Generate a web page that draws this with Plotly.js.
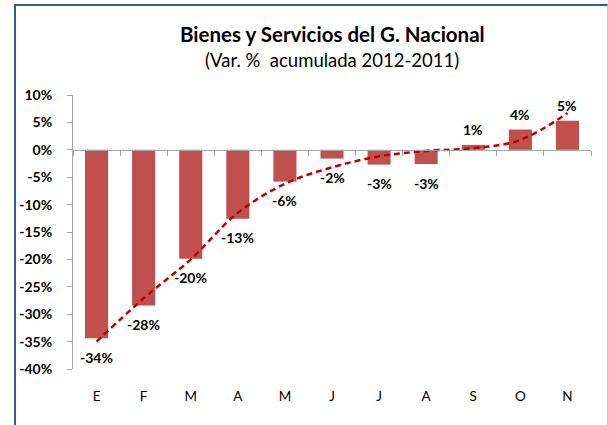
<!DOCTYPE html>
<html>
<head>
<meta charset="utf-8">
<script src="https://cdn.plot.ly/plotly-3.0.1.min.js"></script>
<style>
  html, body { margin: 0; padding: 0; background: #fff; }
  #wrap { position: relative; width: 608px; height: 425px; overflow: hidden; }
  #chart { position: absolute; left: 0; top: 0; width: 608px; height: 425px; }
  #frame { position: absolute; left: 14px; top: 4px; width: 591px; height: 440px;
           border-left: 2px solid #2F5C9E; border-top: 2px solid #2F5C9E;
           border-right: 1px solid #C8C8D0; pointer-events: none; }
</style>
</head>
<body>
<div id="wrap">
  <div id="chart"></div>
  <div id="frame"></div>
</div>
<script>
// Data
var months = ['E', 'F', 'M', 'A', 'M ', 'J', 'J ', 'A ', 'S', 'O', 'N'];
var monthLabels = ['E', 'F', 'M', 'A', 'M', 'J', 'J', 'A', 'S', 'O', 'N'];
var values = [-34.4, -28.4, -19.9, -12.6, -5.8, -1.6, -2.7, -2.6, 0.9, 3.7, 5.3];
var trend = [-35.0, -27.1, -20.0, -11.5, -6.2, -3.2, -1.2, -0.2, 0.3, 1.8, 6.7];
var yTickVals = [-40, -35, -30, -25, -20, -15, -10, -5, 0, 5, 10];
var yTickText = ['-40%', '-35%', '-30%', '-25%', '-20%', '-15%', '-10%', '-5%', '0%', '5%', '10%'];
var titleText = 'Bienes y Servicios del G. Nacional';
var subtitleText = '(Var. %  acumulada 2012-2011)';

var FONT = 'Lato, "Open Sans", sans-serif';

var bars = {
  type: 'bar', x: months, y: values, marker: { color: '#C0504D' },
  width: 0.49, hoverinfo: 'x+y', showlegend: false
};
var trendLine = {
  type: 'scatter', mode: 'lines', x: months, y: trend,
  line: { color: '#C00000', width: 2.5, dash: '6px,4px', shape: 'spline', smoothing: 1 },
  showlegend: false, hoverinfo: 'skip'
};
// invisible trace on xaxis2 to draw the tick marks on the zero line
var tickHelper = {
  type: 'scatter', mode: 'markers', x: months, y: values, xaxis: 'x2',
  marker: { opacity: 0 }, showlegend: false, hoverinfo: 'skip'
};

var annotations = values.map(function (v, i) {
  return {
    x: months[i], y: v, xref: 'x', yref: 'y',
    text: '<b>' + Math.round(v) + '%</b>', showarrow: false,
    yshift: v < 0 ? -19 : 15,
    font: { family: FONT, size: 14, color: '#000' }
  };
});
annotations.push({
  xref: 'paper', yref: 'paper', x: 0.5, y: 1, yanchor: 'bottom', yshift: 47,
  text: '<b>' + titleText + '</b>', showarrow: false,
  font: { family: FONT, size: 20.5, color: '#000' }
});
annotations.push({
  xref: 'paper', yref: 'paper', x: 0.5, y: 1, yanchor: 'bottom', yshift: 22,
  text: subtitleText, showarrow: false,
  font: { family: FONT, size: 18.5, color: '#000' }
});

var layout = {
  width: 608, height: 425,
  margin: { l: 73, r: 17, t: 95, b: 56 },
  paper_bgcolor: '#fff', plot_bgcolor: '#fff',
  font: { family: FONT, color: '#000' },
  xaxis: {
    type: 'category', categoryorder: 'array', categoryarray: months,
    tickvals: months, ticktext: monthLabels,
    showline: false, showgrid: false, zeroline: false, ticks: '',
    ticklabelstandoff: 17,
    tickfont: { family: FONT, size: 13.5, color: '#000' },
    range: [-0.5, 10.5], fixedrange: true
  },
  xaxis2: {
    type: 'category', categoryorder: 'array', categoryarray: months,
    overlaying: 'x', anchor: 'free', position: 0.8, side: 'bottom',
    showline: true, linecolor: '#A6A6A6', linewidth: 1.5,
    ticks: 'outside', ticklen: 5, tickcolor: '#A6A6A6', tickwidth: 1,
    tickson: 'boundaries', showticklabels: false, showgrid: false, zeroline: false,
    range: [-0.5, 10.5], fixedrange: true
  },
  yaxis: {
    range: [-40, 10], tickvals: yTickVals, ticktext: yTickText,
    showline: true, linecolor: '#A6A6A6', linewidth: 1,
    ticks: 'outside', ticklen: 5, tickcolor: '#A6A6A6',
    ticklabelstandoff: 12,
    showgrid: false, zeroline: false,
    tickfont: { family: FONT, size: 14, color: '#000', weight: 'bold' },
    fixedrange: true
  },
  bargap: 0.5,
  annotations: annotations,
  showlegend: false
};

Plotly.newPlot('chart', [bars, trendLine, tickHelper], layout, { displayModeBar: false, staticPlot: true });
</script>
</body>
</html>
